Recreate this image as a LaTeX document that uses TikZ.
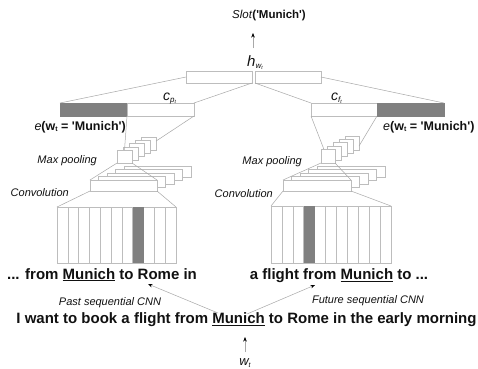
\documentclass[tikz,border=0pt]{standalone}
\usepackage{fontspec}
\setmainfont{Liberation Sans}
\usetikzlibrary{arrows.meta,calc}

\definecolor{barfill}{HTML}{808080}
\definecolor{edge}{HTML}{BDBDBD}
\definecolor{wire}{HTML}{A8A8A8}
\definecolor{ink}{HTML}{111111}

\tikzset{
  cell/.style={draw=edge, fill=white, line width=0.6pt, inner sep=0pt, outer sep=0pt, anchor=north west},
  shadecell/.style={cell, fill=barfill, draw=barfill},
  wire/.style={draw=wire, line width=0.5pt},
  arr/.style={wire, -{Stealth[length=4.5pt,width=3.5pt,color=black]}},
  lab/.style={font=\fontsize{11}{13}\selectfont\itshape, text=ink, inner sep=0pt},
  big/.style={font=\fontsize{15}{18}\selectfont\bfseries, text=ink, inner sep=0pt, anchor=base},
}

\newcommand{\subsc}[2]{\raisebox{-#1}{#2}}
\newcommand{\sq}{\textquotesingle}

\begin{document}
\begin{tikzpicture}[x=1pt,y=-1pt]
\useasboundingbox[fill=white] (0,0) rectangle (478,368);

% ---- top: hidden state and slot output
\node[cell, minimum width=66pt, minimum height=12pt] (hl) at (186,71) {};
\node[cell, minimum width=66pt, minimum height=12pt] (hr) at (255,71) {};
\node[inner sep=0pt, anchor=base west, text=ink] (hw) at (247,66)
  {\fontsize{15}{15}\selectfont\itshape h\subsc{2.5pt}{\fontsize{8}{8}\selectfont w\subsc{1.2pt}{\fontsize{5}{5}\selectfont t}}};
\node[inner sep=0pt, anchor=base, text=ink, font=\fontsize{11.5}{13}\selectfont] (slot) at (269,18)
  {\textit{Slot}\textbf{(\sq Munich\sq)}};
\draw[arr] ($(hw.base west)+(6,-18)$) -- ($(slot.base)+(-16,15)$);

% ---- context vectors with word embeddings
\node[shadecell, minimum width=67pt, minimum height=13pt] (epL) at (60,103) {};
\node[cell, minimum width=67pt, minimum height=13pt] (cpL) at (127,103) {};
\node[cell, minimum width=66pt, minimum height=13pt] (cfR) at (311,103) {};
\node[shadecell, minimum width=67pt, minimum height=13pt] (efR) at (377,103) {};

\node[inner sep=0pt, anchor=base west, text=ink] (cp) at (163,100)
  {\fontsize{14}{14}\selectfont\itshape c\subsc{2pt}{\fontsize{8}{8}\selectfont p\subsc{1pt}{\fontsize{5}{5}\selectfont t}}};
\node[inner sep=0pt, anchor=base west, text=ink] (cf) at (331,100)
  {\fontsize{14}{14}\selectfont\itshape c\subsc{2pt}{\fontsize{8}{8}\selectfont f\subsc{1pt}{\fontsize{5}{5}\selectfont t}}};

\node[inner sep=0pt, anchor=base east, text=ink, font=\fontsize{12.5}{14}\selectfont] (eL) at (126,130)
  {\textit{e}\textbf{(w\subsc{1.5pt}{\fontsize{7}{7}\selectfont t} = \sq Munich\sq)}};
\node[inner sep=0pt, anchor=base west, text=ink, font=\fontsize{12.5}{14}\selectfont] (eR) at (383,130)
  {\textit{e}\textbf{(w\subsc{1.5pt}{\fontsize{7}{7}\selectfont t} = \sq Munich\sq)}};

\draw[wire] (hl.west) -- (epL.north west);
\draw[wire] (hl.south east) -- (cpL.north east);
\draw[wire] (hr.south west) -- (cfR.north west);
\draw[wire] (hr.east) -- (efR.north east);

% ---- max pooling stacks
\foreach \k in {4,3,2,1}{
  \node[cell, minimum width=15pt, minimum height=13pt] (mpL\k) at ({117+6*\k},{150-3.2*\k}) {};
  \node[cell, minimum width=14pt, minimum height=14pt] (mpR\k) at ({321+6*\k},{149-3.2*\k}) {};
}
\node[cell, minimum width=15pt, minimum height=13pt] (mpL0) at (117,150) {};
\node[cell, minimum width=14pt, minimum height=14pt] (mpR0) at (321,149) {};

% ---- convolution stacks
\foreach \k in {4,3,2,1}{
  \node[cell, minimum width=67pt, minimum height=11pt] (cvL\k) at ({90+8.5*\k},{180-3.5*\k}) {};
  \node[cell, minimum width=68pt, minimum height=11pt] (cvR\k) at ({283+8.5*\k},{180-3.5*\k}) {};
}
\node[cell, minimum width=67pt, minimum height=11pt] (cvL0) at (90,180) {};
\node[cell, minimum width=68pt, minimum height=11pt] (cvR0) at (283,180) {};

% ---- word windows
\node[cell, minimum width=119pt, minimum height=56pt] (winL) at (57,207) {};
\node[cell, minimum width=120pt, minimum height=57pt] (winR) at (271,206) {};
\foreach \i in {1,...,10}{
  \draw[draw=edge, line width=0.6pt] ($(winL.north west)!\i/11!(winL.north east)$) -- ($(winL.south west)!\i/11!(winL.south east)$);
  \draw[draw=edge, line width=0.6pt] ($(winR.north west)!\i/11!(winR.north east)$) -- ($(winR.south west)!\i/11!(winR.south east)$);
}
\fill[barfill] ($(winL.north west)!7/11!(winL.north east)$) rectangle ($(winL.south west)!8/11!(winL.south east)$);
\fill[barfill] ($(winR.north west)!3/11!(winR.north east)$) rectangle ($(winR.south west)!4/11!(winR.south east)$);

% ---- wiring between the stages
\draw[wire] (cpL.south west) -- (mpL0.north);
\draw[wire] (cpL.south east) -- ($(mpL4.north east)!0.3!(mpL4.south east)$);
\draw[wire] (cfR.south west) -- ($(mpR0.north west)!0.2!(mpR0.north east)$);
\draw[wire] (cfR.south east) -- ($(mpR4.north east)!0.7!(mpR4.south east)$);

\draw[wire] (cvL0.north west) -- (mpL0.south west);
\draw[wire] (mpL0.south east) -- (cvL0.north east);
\draw[wire] (cvR0.north west) -- (mpR0.south west);
\draw[wire] (mpR0.south east) -- (cvR0.north east);

\draw[wire] (cvL0.south west) -- (winL.north west);
\draw[wire] (cvL0.south east) -- (winL.north east);
\draw[wire] (cvR0.south west) -- (winR.north west);
\draw[wire] (cvR0.south east) -- (winR.north east);

% ---- stage labels
\node[lab, anchor=base east] (mpLlab) at (97,163) {Max pooling};
\node[lab, anchor=base east] (mpRlab) at (302,164) {Max pooling};
\node[lab, anchor=base east] (cvLlab) at (69,196) {Convolution};
\node[lab, anchor=base east] (cvRlab) at (273,197) {Convolution};

% ---- sentence and its two contexts
\node[big] (past) at (102,279) {... from \underline{Munich} to Rome in};
\node[big] (future) at (339,279.5) {a flight from \underline{Munich} to ...};
\node[big] (sent) at (246.5,323.5) {I want to book a flight from \underline{Munich} to Rome in the early morning};

\node[lab, anchor=base] (pastlab) at (110,305) {Past sequential CNN};
\node[lab, anchor=base] (futlab) at (368,303) {Future sequential CNN};

\draw[arr] ($(sent.base)+(-28.5,-10.5)$) -- ($(past.base)+(46,5)$);
\draw[arr] ($(sent.base)+(0.5,-9.5)$) -- ($(future.base)+(-24,5.5)$);

\node[inner sep=0pt, anchor=base, text=ink] (wt) at (245,365.5)
  {\fontsize{13}{13}\selectfont\itshape w\subsc{1.5pt}{\fontsize{7}{7}\selectfont t}};
\draw[arr] ($(wt.base)+(0,-13.5)$) -- ($(sent.base)+(-1.5,13.5)$);
\end{tikzpicture}
\end{document}
